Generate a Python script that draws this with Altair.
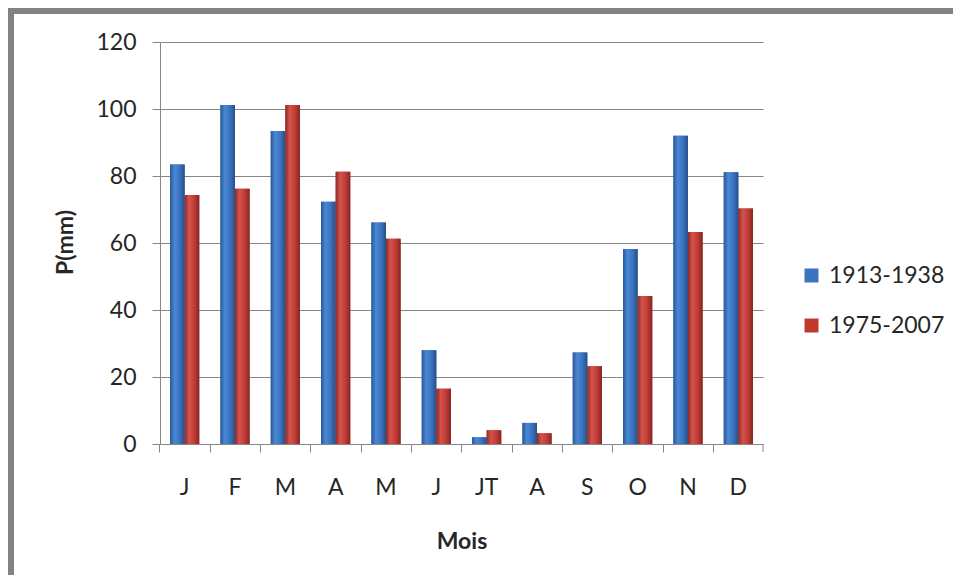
import altair as alt
import pandas as pd

months = ["J", "F", "M", "A", "M", "J", "JT", "A", "S", "O", "N", "D"]
series_names = ["1913-1938", "1975-2007"]
p_1913_1938 = [83.4, 101.2, 93.4, 72.3, 66.1, 28.0, 2.0, 6.3, 27.3, 58.2, 92.0, 81.1]
p_1975_2007 = [74.3, 76.2, 101.2, 81.3, 61.3, 16.5, 4.1, 3.2, 23.2, 44.2, 63.3, 70.3]
y_ticks = [0, 20, 40, 60, 80, 100, 120]
series_colors = ["#3B74C1", "#C0392F"]

rows = []
for i in range(len(months)):
    rows.append({"idx": i, "serie": series_names[0], "p": p_1913_1938[i]})
    rows.append({"idx": i, "serie": series_names[1], "p": p_1975_2007[i]})
df = pd.DataFrame(rows)

label_expr = "[" + ",".join("'%s'" % m for m in months) + "][datum.value]"
FONT = "Lato"
GRAY = "#868686"
TXT = "#262626"

x_enc = alt.X(
    "idx:O",
    title="Mois",
    scale=alt.Scale(paddingInner=0.42, paddingOuter=0.2),
    axis=alt.Axis(
        labelExpr=label_expr,
        bandPosition=-0.345,
        labelAngle=0,
        tickSize=8,
        labelPadding=24,
        labelFontSize=23,
        titleFontSize=23,
        titleFontWeight="bold",
        titleY=104,
        titleBaseline="alphabetic",
        grid=False,
    ),
)
y_enc = alt.Y(
    "p:Q",
    title="P(mm)",
    scale=alt.Scale(domain=[0, 120], nice=False),
    axis=alt.Axis(
        values=y_ticks,
        tickSize=8,
        labelPadding=16,
        labelFontSize=23,
        titleFontSize=23,
        titleFontWeight="bold",
        titleX=-88,
        titleY=200,
        titleBaseline="alphabetic",
        grid=True,
    ),
)
xo_enc = alt.XOffset("serie:N", sort=series_names)

base_bars = alt.Chart(df).mark_bar().encode(
    x=x_enc,
    xOffset=xo_enc,
    y=y_enc,
    color=alt.Color(
        "serie:N",
        scale=alt.Scale(domain=series_names, range=series_colors),
        legend=alt.Legend(
            title=None,
            orient="none",
            legendX=640,
            legendY=222,
            symbolType="square",
            symbolSize=196,
            symbolStrokeWidth=0,
            labelFontSize=23,
            labelFont=FONT,
            labelColor=TXT,
            labelOffset=6,
            rowPadding=26,
        ),
    ),
)


def grad(stops):
    return alt.Gradient(
        gradient="linear",
        x1=0, x2=1, y1=0, y2=0,
        stops=[alt.GradientStop(offset=o, color=c) for o, c in stops],
    )


blue_grad = grad([(0, "#2A5896"), (0.3, "#4A87D2"), (0.65, "#3A74C0"), (1, "#26508A")])
red_grad = grad([(0, "#8C2A26"), (0.3, "#D4534C"), (0.65, "#C23D37"), (1, "#862522")])

blue_bars = alt.Chart(df).transform_filter(
    alt.datum.serie == series_names[0]
).mark_bar(color=blue_grad).encode(x=x_enc, xOffset=xo_enc, y=y_enc)
red_bars = alt.Chart(df).transform_filter(
    alt.datum.serie == series_names[1]
).mark_bar(color=red_grad).encode(x=x_enc, xOffset=xo_enc, y=y_enc)

deco = alt.Chart(pd.DataFrame({"a": [0]}))
frame_left = deco.mark_rule(color="#828282", strokeWidth=6).encode(
    x=alt.value(-149), y=alt.value(-34), y2=alt.value(545)
)
frame_top = deco.mark_rule(color="#828282", strokeWidth=6).encode(
    x=alt.value(-152), x2=alt.value(805), y=alt.value(-31)
)
last_tick = deco.mark_rule(color=GRAY, strokeWidth=1).encode(
    x=alt.value(603), y=alt.value(402), y2=alt.value(410)
)

chart = alt.layer(
    base_bars, blue_bars, red_bars, last_tick, frame_left, frame_top
).properties(
    width=603,
    height=402,
    autosize=alt.AutoSizeParams(type="none"),
    padding={"left": 152, "top": 34, "right": 190, "bottom": 131},
    background="white",
).configure_axis(
    domainColor=GRAY,
    tickColor=GRAY,
    gridColor=GRAY,
    labelColor=TXT,
    titleColor=TXT,
    labelFont=FONT,
    titleFont=FONT,
).configure_view(stroke="transparent")

chart.save("out.html", embed_options={"renderer": "svg", "actions": False})
